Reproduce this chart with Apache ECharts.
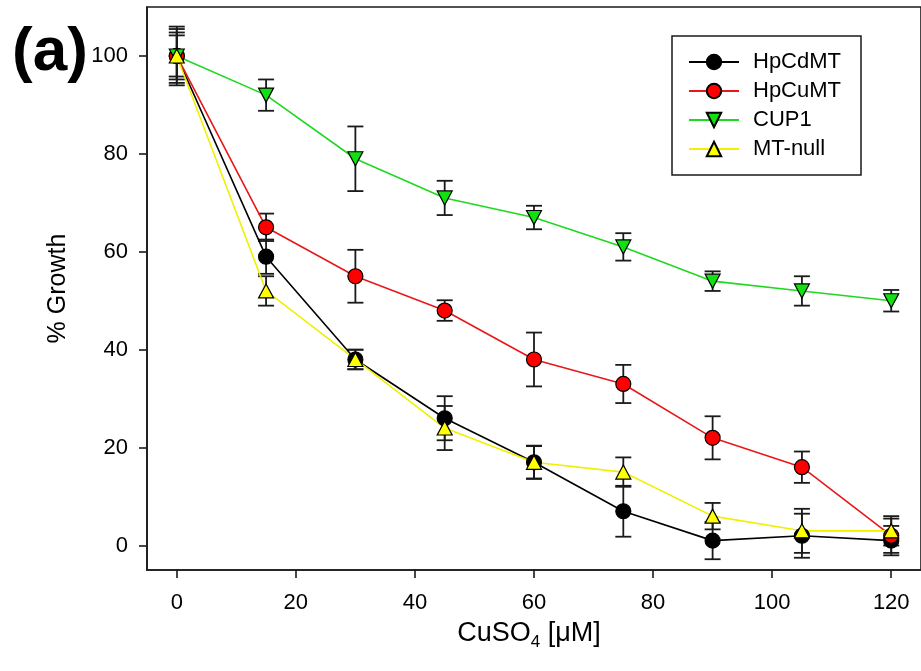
<!DOCTYPE html>
<html>
<head>
<meta charset="utf-8">
<script src="https://cdn.jsdelivr.net/npm/echarts@6/dist/echarts.min.js"></script>
<style>
  html, body { margin: 0; padding: 0; background: #fff; }
  #chart { width: 921px; height: 671px; }
</style>
</head>
<body>
<div id="chart"></div>
<script>
// CuSO4 dose (µM)
const doses = [0, 15, 30, 45, 60, 75, 90, 105, 120]

// % growth, mean and error
const hpcdmt = [100, 59, 38, 26, 17, 7, 1, 2, 1]
const hpcdmtErr = [5.5, 3.5, 2, 4.5, 3.4, 5.2, 3.8, 4.5, 3]
const hpcumt = [100, 65, 55, 48, 38, 33, 22, 16, 2]
const hpcumtErr = [4.2, 2.8, 5.4, 2.1, 5.5, 3.9, 4.4, 3.2, 3.5]
const cup1 = [100, 92, 79, 71, 67, 61, 54, 52, 50]
const cup1Err = [6, 3.2, 6.6, 3.5, 2.4, 2.8, 2, 3, 2.2]
const mtnull = [100, 52, 38, 24, 17, 15, 6, 3, 3]
const mtnullErr = [4.8, 3, 2, 4.5, 3.3, 3, 2.7, 4.5, 3]

const xTicks = [0, 20, 40, 60, 80, 100, 120]
const yTicks = [0, 20, 40, 60, 80, 100]

const FONT = 'Arial, "Liberation Sans", sans-serif'
const AXIS_COLOR = '#1a1a1a'

const chart = echarts.init(document.getElementById('chart'))

function points(vals) {
  return doses.map((d, i) => [d, vals[i]])
}
function errBars(vals, errs) {
  return doses.map((d, i) => [d, vals[i] - errs[i], vals[i] + errs[i]])
}

function renderErr(params, api) {
  const x = api.value(0)
  const lo = api.coord([x, api.value(1)])
  const hi = api.coord([x, api.value(2)])
  const w = 8
  const style = { stroke: AXIS_COLOR, lineWidth: 1.8 }
  return {
    type: 'group',
    children: [
      { type: 'line', shape: { x1: lo[0], y1: lo[1], x2: hi[0], y2: hi[1] }, style },
      { type: 'line', shape: { x1: lo[0] - w, y1: lo[1], x2: lo[0] + w, y2: lo[1] }, style },
      { type: 'line', shape: { x1: hi[0] - w, y1: hi[1], x2: hi[0] + w, y2: hi[1] }, style },
    ],
  }
}

function errSeries(vals, errs) {
  return {
    type: 'custom',
    renderItem: renderErr,
    data: errBars(vals, errs),
    encode: { x: 0, y: [1, 2] },
    z: 1,
    silent: true,
  }
}

function lineSeries(name, vals, lineColor, fill, symbol, rotate) {
  return {
    name,
    type: 'line',
    data: points(vals),
    symbol,
    symbolSize: symbol === 'circle' ? 15 : [15, 14],
    symbolRotate: rotate || 0,
    showAllSymbol: true,
    lineStyle: { color: lineColor, width: 1.6 },
    itemStyle: { color: fill, borderColor: '#000', borderWidth: 1.2 },
    z: 3,
    animation: false,
  }
}

chart.setOption({
  animation: false,
  textStyle: { fontFamily: FONT },
  grid: {
    left: 147, right: -6, top: 7, bottom: 101,
    show: true, borderColor: AXIS_COLOR, borderWidth: 1.6, backgroundColor: 'transparent',
  },
  graphic: [{
    type: 'text', left: 12, top: 22,
    style: { text: '(a)', font: 'bold 62px ' + FONT, fill: '#000' },
  }],
  legend: {
    orient: 'vertical',
    left: 672, top: 36,
    padding: [15, 20, 15, 16],
    itemWidth: 50, itemHeight: 18, itemGap: 7,
    borderColor: AXIS_COLOR, borderWidth: 1.5,
    backgroundColor: '#fff',
    textStyle: { fontSize: 22, color: '#000', fontFamily: FONT, lineHeight: 18, padding: [0, 0, 0, 9] },
    data: ['HpCdMT', 'HpCuMT', 'CUP1', 'MT-null'],
  },
  xAxis: {
    type: 'value', min: -5, max: 125,
    name: '{a|CuSO}{s|4}{a| [μM]}',
    nameLocation: 'middle', nameGap: 47,
    nameTextStyle: {
      padding: [0, 10, 0, 0],
      rich: {
        a: { fontSize: 27, color: '#000', fontFamily: FONT },
        s: { fontSize: 17, color: '#000', fontFamily: FONT, padding: [17, 0, 0, 0] },
      },
    },
    axisLine: { show: true, onZero: false, lineStyle: { color: AXIS_COLOR, width: 1.6 } },
    axisTick: { show: true, length: 8, customValues: xTicks, lineStyle: { color: AXIS_COLOR, width: 1.6 } },
    axisLabel: { customValues: xTicks, fontSize: 22, color: '#000', margin: 22, fontFamily: FONT },
    splitLine: { show: false },
  },
  yAxis: {
    type: 'value', min: -5, max: 110,
    name: '% Growth',
    nameLocation: 'middle', nameGap: 76,
    nameTextStyle: { fontSize: 25, color: '#000', fontFamily: FONT },
    axisLine: { show: true, onZero: false, lineStyle: { color: AXIS_COLOR, width: 1.6 } },
    axisTick: { show: true, length: 8, customValues: yTicks, lineStyle: { color: AXIS_COLOR, width: 1.6 } },
    axisLabel: { customValues: yTicks, fontSize: 22, color: '#000', margin: 19, fontFamily: FONT },
    splitLine: { show: false },
  },
  series: [
    errSeries(hpcdmt, hpcdmtErr),
    errSeries(hpcumt, hpcumtErr),
    errSeries(cup1, cup1Err),
    errSeries(mtnull, mtnullErr),
    lineSeries('HpCdMT', hpcdmt, '#000000', '#000000', 'circle'),
    lineSeries('HpCuMT', hpcumt, '#e81818', '#ff0000', 'circle'),
    lineSeries('CUP1', cup1, '#1fd81f', '#11e011', 'triangle', 180),
    lineSeries('MT-null', mtnull, '#f0f000', '#ffff00', 'triangle'),
  ],
})
</script>
</body>
</html>
